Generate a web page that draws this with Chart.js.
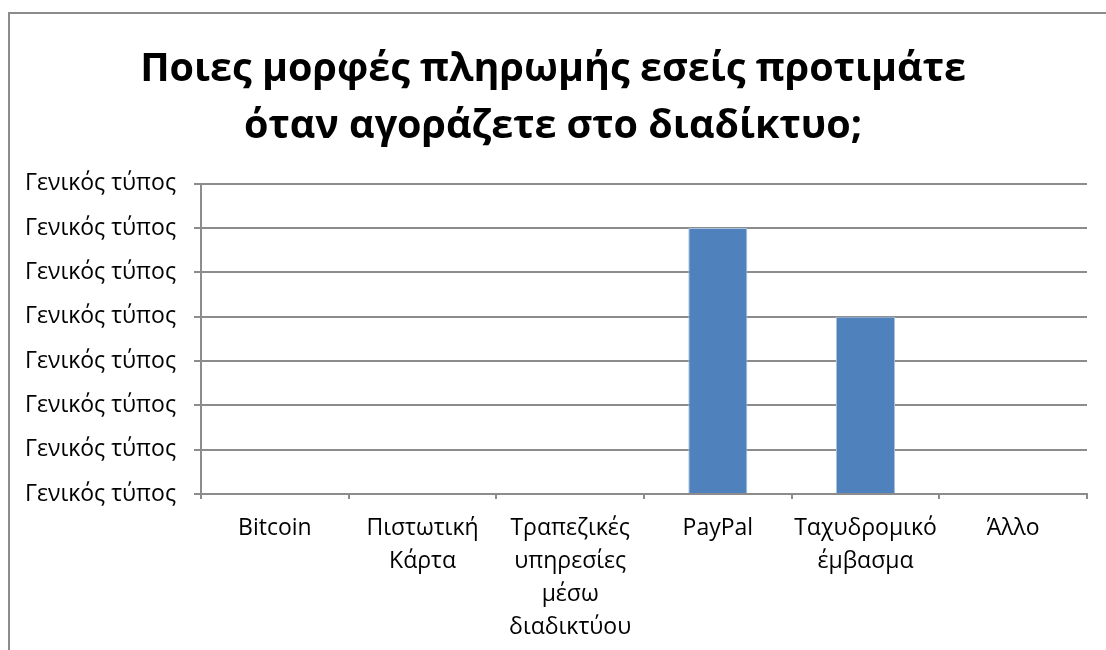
<!DOCTYPE html>
<html>
<head>
<meta charset="utf-8">
<script src="https://cdn.jsdelivr.net/npm/chart.js@4.4.0/dist/chart.umd.min.js"></script>
<style>
  html, body { margin: 0; padding: 0; background: #fff; }
  #wrap { position: relative; width: 1106px; height: 650px; overflow: hidden; }
  #frame { position: absolute; left: 8px; top: 12px; width: 1200px; height: 800px;
           border-left: 2px solid #8c8c8c; border-top: 2px solid #8c8c8c; }
  #myChart { position: absolute; left: 0; top: 0; }
</style>
</head>
<body>
<div id="wrap">
  <div id="frame"></div>
  <canvas id="myChart" width="1106" height="650"></canvas>
</div>
<script>
// chart data
var categories = [
  'Bitcoin',
  ['Πιστωτική', 'Κάρτα'],
  ['Τραπεζικές', 'υπηρεσίες', 'μέσω', 'διαδικτύου'],
  'PayPal',
  ['Ταχυδρομικό', 'έμβασμα'],
  'Άλλο'
];
var answers = [0, 0, 0, 6, 4, 0];
var titleLines = ['Ποιες μορφές πληρωμής εσείς προτιμάτε', 'όταν αγοράζετε στο διαδίκτυο;'];
var yTickText = 'Γενικός τύπος';
var yMax = 7;

var gridColor = '#8c8c8c';
var fontFamily = "'Open Sans', 'Noto Sans', sans-serif";

var ctx = document.getElementById('myChart');
var myChart = new Chart(ctx, {
  type: 'bar',
  data: {
    labels: categories,
    datasets: [{
      data: answers,
      backgroundColor: '#4f81bd',
      borderColor: '#a9c1df',
      borderWidth: 1,
      barPercentage: 0.4,
      categoryPercentage: 1
    }]
  },
  options: {
    responsive: false,
    animation: false,
    layout: {
      padding: { left: 19, right: 19, top: 0, bottom: 0 }
    },
    plugins: {
      legend: { display: false },
      tooltip: { enabled: false },
      title: {
        display: true,
        text: titleLines,
        color: '#000',
        font: { family: fontFamily, size: 39.5, weight: 'bold', lineHeight: 1.44 },
        padding: { top: 41, bottom: 29 }
      }
    },
    scales: {
      x: {
        grid: {
          display: true,
          drawOnChartArea: false,
          drawTicks: true,
          tickLength: 5,
          color: gridColor,
          lineWidth: 2
        },
        border: { color: gridColor, width: 2 },
        ticks: {
          color: '#000',
          maxRotation: 0,
          autoSkip: false,
          padding: 13,
          font: { family: fontFamily, size: 23, lineHeight: 1.43 }
        },
        afterFit: function(scale) { scale.height = 156; }
      },
      y: {
        min: 0,
        max: yMax,
        grid: {
          color: gridColor,
          lineWidth: 2,
          tickLength: 7
        },
        border: { color: gridColor, width: 2 },
        ticks: {
          stepSize: 1,
          color: '#000',
          padding: 18,
          font: { family: fontFamily, size: 23 },
          callback: function() { return yTickText; }
        },
        afterFit: function(scale) { scale.width = 182; }
      }
    }
  }
});
</script>
</body>
</html>
